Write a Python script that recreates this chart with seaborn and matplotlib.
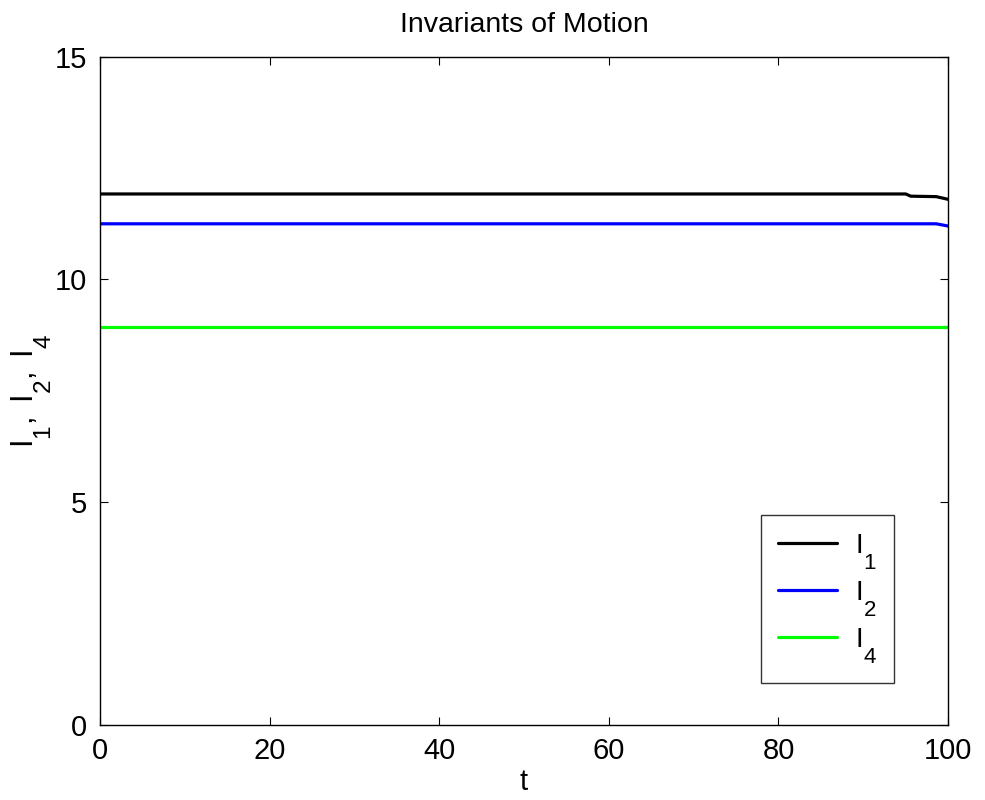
import pandas as pd
import matplotlib
matplotlib.use("Agg")
import matplotlib.pyplot as plt
import matplotlib._mathtext as mathtext_internal
import seaborn as sns

sns.set_style("ticks")
plt.rcParams["font.family"] = ["Liberation Sans", "DejaVu Sans"]
plt.rcParams["mathtext.fontset"] = "custom"
plt.rcParams["mathtext.rm"] = "Liberation Sans"
plt.rcParams["mathtext.it"] = "Liberation Sans"
for key in ["text.color", "axes.labelcolor", "xtick.color", "ytick.color"]:
    plt.rcParams[key] = "black"
# MATLAB subscripts sit lower and are larger than mathtext's defaults
mathtext_internal.FontConstantsBase.sub1 = 1.1
mathtext_internal.SHRINK_FACTOR = 0.8

# values
t = [0, 95.0, 95.6, 98.6, 100]
i1 = [11.92, 11.92, 11.87, 11.86, 11.80]
i2 = [11.25, 11.25, 11.25, 11.25, 11.20]
i4 = [8.94, 8.94, 8.94, 8.94, 8.94]
series_names = [r"$\mathregular{I_1}$", r"$\mathregular{I_2}$", r"$\mathregular{I_4}$"]
series_colors = ["black", "#0000ff", "#00ff00"]

df = pd.concat([
    pd.DataFrame({"t": t, "value": vals, "series": name})
    for name, vals in zip(series_names, [i1, i2, i4])
])

fig = plt.figure(figsize=(9.85, 8), dpi=100)
ax = fig.add_axes([0.1015, 0.094, 0.861, 0.835])

sns.lineplot(
    data=df,
    x="t",
    y="value",
    hue="series",
    palette=series_colors,
    estimator=None,
    sort=False,
    linewidth=2.3,
    ax=ax,
)

ax.set_xlim(0, 100)
ax.set_ylim(0, 15)
ax.set_xticks([0, 20, 40, 60, 80, 100])
ax.set_yticks([0, 5, 10, 15])
ax.tick_params(direction="in", top=True, right=True, labelsize=21, length=6, width=0.8, pad=9)
for s in ax.spines.values():
    s.set_linewidth(1.0)
    s.set_color("black")

ax.set_title("Invariants of Motion", fontsize=20.5, pad=18)
ax.set_xlabel("t", fontsize=21, labelpad=2)
ax.set_ylabel(r"$\mathregular{I_1,\ I_2,\ I_4}$", fontsize=22, labelpad=1)

leg = ax.legend(
    loc="upper left",
    bbox_to_anchor=(0.7795, 0.3144),
    fontsize=20,
    frameon=True,
    fancybox=False,
    edgecolor="black",
    handlelength=2.1,
    handletextpad=0.65,
    borderpad=0.62,
    borderaxespad=0,
    labelspacing=0.27,
    title=None,
)
leg.get_frame().set_linewidth(1.0)

fig.savefig("out.png", dpi=100)
